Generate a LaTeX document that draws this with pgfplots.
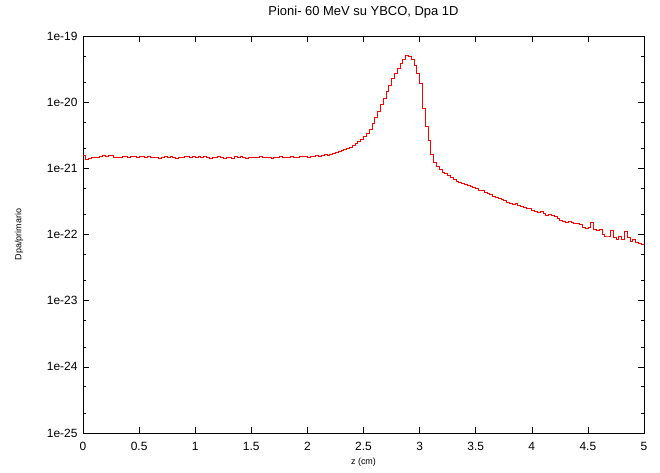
\documentclass[border=0pt]{standalone}
\usepackage{fontspec}
\setmainfont{Liberation Sans}
\usepackage{pgfplots}
\usepackage{pgfplotstable}
\pgfplotsset{compat=1.18}
\pgfplotstableread{
z y
0.000 1.55e-21
0.025 1.38e-21
0.050 1.42e-21
0.075 1.45e-21
0.100 1.47e-21
0.125 1.48e-21
0.150 1.52e-21
0.175 1.56e-21
0.200 1.50e-21
0.225 1.55e-21
0.250 1.56e-21
0.275 1.47e-21
0.300 1.46e-21
0.325 1.44e-21
0.350 1.52e-21
0.375 1.50e-21
0.400 1.48e-21
0.425 1.50e-21
0.450 1.53e-21
0.475 1.47e-21
0.500 1.52e-21
0.525 1.49e-21
0.550 1.47e-21
0.575 1.51e-21
0.600 1.45e-21
0.625 1.47e-21
0.650 1.48e-21
0.675 1.42e-21
0.700 1.46e-21
0.725 1.52e-21
0.750 1.48e-21
0.775 1.50e-21
0.800 1.46e-21
0.825 1.43e-21
0.850 1.47e-21
0.875 1.45e-21
0.900 1.50e-21
0.925 1.53e-21
0.950 1.46e-21
0.975 1.49e-21
1.000 1.44e-21
1.025 1.52e-21
1.050 1.48e-21
1.075 1.50e-21
1.100 1.46e-21
1.125 1.42e-21
1.150 1.48e-21
1.175 1.47e-21
1.200 1.52e-21
1.225 1.46e-21
1.250 1.41e-21
1.275 1.45e-21
1.300 1.47e-21
1.325 1.43e-21
1.350 1.49e-21
1.375 1.46e-21
1.400 1.50e-21
1.425 1.47e-21
1.450 1.42e-21
1.475 1.45e-21
1.500 1.48e-21
1.525 1.44e-21
1.550 1.46e-21
1.575 1.49e-21
1.600 1.45e-21
1.625 1.48e-21
1.650 1.46e-21
1.675 1.43e-21
1.700 1.47e-21
1.725 1.44e-21
1.750 1.49e-21
1.775 1.46e-21
1.800 1.48e-21
1.825 1.45e-21
1.850 1.50e-21
1.875 1.47e-21
1.900 1.46e-21
1.925 1.52e-21
1.950 1.49e-21
1.975 1.50e-21
2.000 1.48e-21
2.025 1.53e-21
2.050 1.51e-21
2.075 1.55e-21
2.100 1.52e-21
2.125 1.57e-21
2.150 1.60e-21
2.175 1.58e-21
2.200 1.62e-21
2.225 1.68e-21
2.250 1.72e-21
2.275 1.78e-21
2.300 1.86e-21
2.325 1.92e-21
2.350 2.00e-21
2.375 2.10e-21
2.400 2.20e-21
2.425 2.35e-21
2.450 2.52e-21
2.475 2.75e-21
2.500 3.00e-21
2.525 3.35e-21
2.550 3.90e-21
2.575 4.70e-21
2.600 5.80e-21
2.625 7.20e-21
2.650 9.10e-21
2.675 1.15e-20
2.700 1.45e-20
2.725 1.80e-20
2.750 2.25e-20
2.775 2.70e-20
2.800 3.20e-20
2.825 3.90e-20
2.850 4.50e-20
2.875 5.10e-20
2.900 4.90e-20
2.925 4.40e-20
2.950 3.60e-20
2.975 2.70e-20
3.000 1.95e-20
3.025 8.00e-21
3.050 4.30e-21
3.075 2.60e-21
3.100 1.65e-21
3.125 1.25e-21
3.150 1.08e-21
3.175 9.50e-22
3.200 8.80e-22
3.225 8.40e-22
3.250 7.80e-22
3.275 7.20e-22
3.300 6.80e-22
3.325 6.40e-22
3.350 6.20e-22
3.375 6.00e-22
3.400 5.80e-22
3.425 5.60e-22
3.450 5.40e-22
3.475 5.10e-22
3.500 4.90e-22
3.525 4.70e-22
3.550 4.60e-22
3.575 4.40e-22
3.600 4.20e-22
3.625 4.00e-22
3.650 3.80e-22
3.675 3.60e-22
3.700 3.50e-22
3.725 3.40e-22
3.750 3.30e-22
3.775 3.10e-22
3.800 3.00e-22
3.825 2.90e-22
3.850 3.00e-22
3.875 2.80e-22
3.900 2.70e-22
3.925 2.60e-22
3.950 2.50e-22
3.975 2.45e-22
4.000 2.30e-22
4.025 2.25e-22
4.050 2.15e-22
4.075 2.20e-22
4.100 2.10e-22
4.125 1.95e-22
4.150 2.00e-22
4.175 1.95e-22
4.200 1.90e-22
4.225 1.75e-22
4.250 1.65e-22
4.275 1.60e-22
4.300 1.55e-22
4.325 1.60e-22
4.350 1.50e-22
4.375 1.45e-22
4.400 1.45e-22
4.425 1.40e-22
4.450 1.30e-22
4.475 1.25e-22
4.500 1.30e-22
4.525 1.50e-22
4.550 1.20e-22
4.575 1.15e-22
4.600 1.20e-22
4.625 1.00e-22
4.650 9.50e-23
4.675 9.50e-23
4.700 1.15e-22
4.725 9.00e-23
4.750 8.50e-23
4.775 9.50e-23
4.800 8.50e-23
4.825 1.10e-22
4.850 9.00e-23
4.875 8.00e-23
4.900 8.50e-23
4.925 7.50e-23
4.950 7.40e-23
4.975 7.20e-23
5.000 7.20e-23
}\dpadata
\begin{document}
\begin{tikzpicture}
\path[use as bounding box] (-83bp,-40bp) rectangle (577bp,433bp);
\begin{axis}[
  at={(0,0)}, anchor=south west,
  scale only axis,
  width=561bp, height=397bp,
  xmin=0, xmax=5,
  ymode=log, ymin=1e-25, ymax=1e-19,
  axis line style={black, line width=0.8pt},
  tick style={black, line width=0.6pt},
  tick align=inside,
  major tick length=6bp,
  minor tick length=3.5bp,
  xtick={0,0.5,1,1.5,2,2.5,3,3.5,4,4.5,5},
  xticklabels={0,0.5,1,1.5,2,2.5,3,3.5,4,4.5,5},
  ytick={1e-25,1e-24,1e-23,1e-22,1e-21,1e-20,1e-19},
  yticklabels={1e-25,1e-24,1e-23,1e-22,1e-21,1e-20,1e-19},
  minor ytick={2e-25,5e-25,2e-24,5e-24,2e-23,5e-23,2e-22,5e-22,2e-21,5e-21,2e-20,5e-20},
  ticklabel style={font=\fontsize{12}{14}\selectfont},
  xticklabel style={yshift=-6bp},
  yticklabel style={xshift=-2bp},
  title={Pioni- 60 MeV su YBCO, Dpa 1D},
  title style={font=\fontsize{13}{15}\selectfont, at={(axis description cs:0.5,1)}, anchor=center, yshift=18bp},
  xlabel={z (cm)},
  xlabel style={font=\fontsize{9}{11}\selectfont, at={(axis description cs:0.5,0)}, anchor=center, yshift=-29bp},
  ylabel={Dpa/primario},
  ylabel style={font=\fontsize{9}{11}\selectfont, at={(axis description cs:-0.114,0.5)}, anchor=center},
]
\addplot[const plot, red, line width=0.8pt] table[x=z, y=y] {\dpadata};
\end{axis}
\end{tikzpicture}
\end{document}
